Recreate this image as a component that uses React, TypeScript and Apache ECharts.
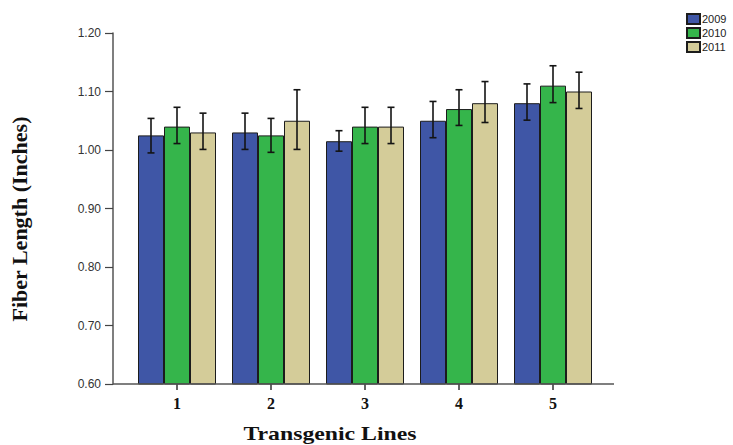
import React, { useEffect, useRef } from 'react';
import * as echarts from 'echarts';

const categories = ['1', '2', '3', '4', '5'];
const years = ['2009', '2010', '2011'];

const mean2009 = [1.025, 1.03, 1.015, 1.05, 1.08];
const mean2010 = [1.04, 1.025, 1.04, 1.07, 1.11];
const mean2011 = [1.03, 1.05, 1.04, 1.08, 1.1];

const low2009 = [0.995, 1.001, 0.998, 1.021, 1.051];
const high2009 = [1.054, 1.063, 1.033, 1.083, 1.113];
const low2010 = [1.011, 0.996, 1.011, 1.042, 1.081];
const high2010 = [1.073, 1.054, 1.073, 1.103, 1.144];
const low2011 = [1.001, 1.001, 1.011, 1.047, 1.071];
const high2011 = [1.063, 1.103, 1.073, 1.117, 1.133];

const yMin = 0.6;
const yMax = 1.2;
const yStep = 0.1;

const colors = ['#3f56a6', '#35b54b', '#d4cc99'];

export default function App() {
  const ref = useRef<HTMLDivElement>(null);

  useEffect(() => {
    document.body.style.margin = '0';
    const chart = echarts.init(ref.current as HTMLDivElement, null, { renderer: 'svg' });
    const BAR_W = 26;
    const means = [mean2009, mean2010, mean2011];
    const lows = [low2009, low2010, low2011];
    const highs = [high2009, high2010, high2011];

    const barSeries = years.map((y, i) => ({
      type: 'bar',
      name: y,
      data: means[i],
      barWidth: BAR_W,
      barGap: '0%',
      itemStyle: { color: colors[i], borderColor: '#1c1c1c', borderWidth: 1 },
      emphasis: { disabled: true },
    }));

    const errSeries = years.map((y, idx) => ({
      type: 'custom',
      name: y + ' err',
      silent: true,
      z: 10,
      encode: { x: 0, y: [1, 2] },
      data: lows[idx].map((l, i) => [i, l, highs[idx][i]]),
      renderItem: (params: any, api: any) => {
        const c = api.value(0);
        const lo = api.coord([c, api.value(1)]);
        const hi = api.coord([c, api.value(2)]);
        const x = lo[0] + (idx - 1) * BAR_W;
        const cap = 3.5;
        const st = { stroke: '#141414', lineWidth: 1.6 };
        return {
          type: 'group',
          children: [
            { type: 'line', shape: { x1: x, y1: hi[1], x2: x, y2: lo[1] }, style: st },
            { type: 'line', shape: { x1: x - cap, y1: hi[1], x2: x + cap, y2: hi[1] }, style: st },
            { type: 'line', shape: { x1: x - cap, y1: lo[1], x2: x + cap, y2: lo[1] }, style: st },
          ],
        };
      },
    }));

    chart.setOption({
      animation: false,
      legend: {
        data: years,
        orient: 'vertical',
        left: 686,
        top: 13,
        icon: 'rect',
        itemWidth: 13,
        itemHeight: 10,
        itemGap: 2,
        padding: 0,
        textStyle: { fontFamily: 'Liberation Sans, Arial, sans-serif', fontSize: 11, color: '#222', lineHeight: 11, padding: [0, 0, 0, -3] },
      },
      grid: { left: 130, right: 133, top: 33, bottom: 61 },
      xAxis: {
        type: 'category',
        data: categories,
        axisLine: { show: false },
        axisTick: { show: true, alignWithLabel: true, length: 6, lineStyle: { color: '#333', width: 1.5 } },
        axisLabel: {
          margin: 11,
          fontFamily: 'Liberation Serif, Times New Roman, serif',
          fontWeight: 'bold',
          fontSize: 16,
          color: '#111',
        },
        splitLine: { show: false },
      },
      yAxis: {
        type: 'value',
        min: yMin,
        max: yMax,
        interval: yStep,
        offset: 17,
        axisLine: { show: true, lineStyle: { color: '#555', width: 1.5 } },
        axisTick: { show: true, inside: false, length: 8, lineStyle: { color: '#444', width: 1.2 } },
        axisLabel: {
          margin: 12,
          fontFamily: 'Liberation Sans, Arial, sans-serif',
          fontSize: 12,
          color: '#333',
          formatter: (v: number) => v.toFixed(2),
        },
        splitLine: { show: false },
      },
      graphic: [
        {
          type: 'line',
          shape: { x1: 113, y1: 384, x2: 614, y2: 384 },
          style: { stroke: '#555', lineWidth: 1.5 },
          z: 5,
        },
        {
          type: 'text',
          x: 330,
          y: 434,
          scaleX: 1.25,
          style: {
            text: 'Transgenic Lines',
            align: 'center',
            verticalAlign: 'middle',
            font: 'bold 19px "Liberation Serif", "Times New Roman", serif',
            fill: '#111',
          },
        },
        {
          type: 'text',
          x: 19,
          y: 219,
          rotation: Math.PI / 2,
          style: {
            text: 'Fiber Length (Inches)',
            align: 'center',
            verticalAlign: 'middle',
            font: 'bold 22px "Liberation Serif", "Times New Roman", serif',
            fill: '#111',
          },
        },
      ],
      series: [...barSeries, ...errSeries],
    });

    return () => chart.dispose();
  }, []);

  return <div ref={ref} style={{ width: 733, height: 445 }} />;
}
